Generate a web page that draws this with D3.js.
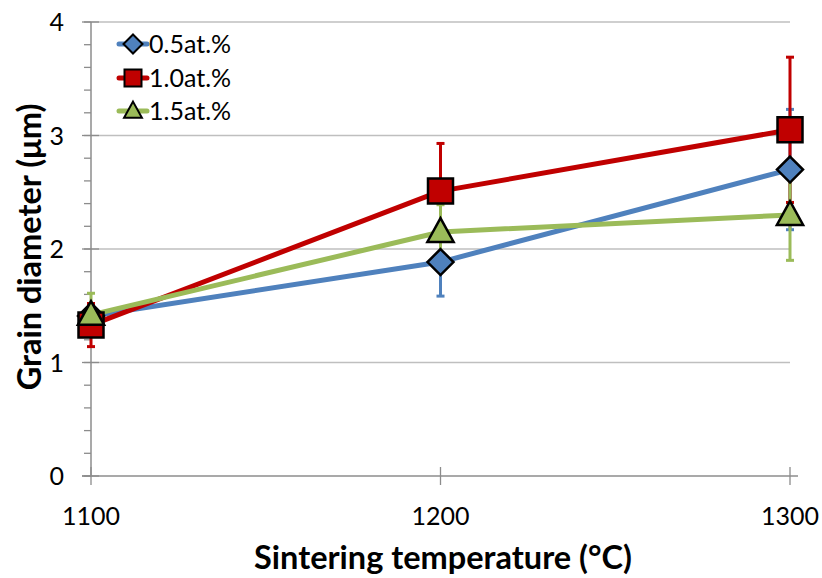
<!DOCTYPE html>
<html>
<head>
<meta charset="utf-8">
<script src="https://cdn.jsdelivr.net/npm/d3@7"></script>
<style>
  html, body { margin: 0; padding: 0; background: #fff; }
  svg { display: block; font-family: Lato, "Open Sans", sans-serif; }
</style>
</head>
<body>
<svg id="chart" width="822" height="578"></svg>
<script>
// Sintering temperatures (°C)
const temperatures = [1100, 1200, 1300];

// Series names shown in the legend
const seriesNames = ["0.5at.%", "1.0at.%", "1.5at.%"];

// Mean grain diameter (µm) per series
const grain05 = [1.41, 1.885, 2.70];
const grain10 = [1.33, 2.51, 3.05];
const grain15 = [1.42, 2.15, 2.30];

// Standard deviation (µm) per series
const err05 = [0.08, 0.30, 0.53];
const err10 = [0.19, 0.42, 0.64];
const err15 = [0.19, 0.24, 0.40];

// Axis ticks
const xTicks = [1100, 1200, 1300];
const yTicks = [0, 1, 2, 3, 4];
const yMinorTicks = d3.range(0, 4.0001, 0.2);

const xTitle = "Sintering temperature (°C)";
const yTitle = "Grain diameter (μm)";

const colors = ["#4F81BD", "#C00000", "#9BBB59"];
const shapes = ["diamond", "square", "triangle"];

const series = [
  { name: seriesNames[0], values: grain05, errs: err05, color: colors[0], shape: shapes[0] },
  { name: seriesNames[1], values: grain10, errs: err10, color: colors[1], shape: shapes[1] },
  { name: seriesNames[2], values: grain15, errs: err15, color: colors[2], shape: shapes[2] }
];

const svg = d3.select("#chart");
const plot = { left: 91, right: 790, top: 22, bottom: 476 };

const x = d3.scaleLinear().domain([1100, 1300]).range([plot.left, plot.right]);
const y = d3.scaleLinear().domain([0, 4]).range([plot.bottom, plot.top]);

const axisColor = "#8C8C8C";
const gridColor = "#BFBFBF";

// Horizontal gridlines
svg.append("g").selectAll("line")
  .data(yTicks.filter(d => d > 0))
  .join("line")
  .attr("x1", plot.left).attr("x2", plot.right)
  .attr("y1", d => y(d)).attr("y2", d => y(d))
  .attr("stroke", gridColor).attr("stroke-width", 1.5);

// Y axis: line, minor ticks, major ticks, labels
const yAxis = svg.append("g");
yAxis.append("line")
  .attr("x1", plot.left).attr("x2", plot.left)
  .attr("y1", plot.top).attr("y2", plot.bottom)
  .attr("stroke", axisColor).attr("stroke-width", 1.5);
yAxis.selectAll("line.minor")
  .data(yMinorTicks)
  .join("line").attr("class", "minor")
  .attr("x1", plot.left - 7).attr("x2", plot.left)
  .attr("y1", d => y(d)).attr("y2", d => y(d))
  .attr("stroke", axisColor).attr("stroke-width", 1.3);
yAxis.selectAll("line.major")
  .data(yTicks)
  .join("line").attr("class", "major")
  .attr("x1", plot.left - 9).attr("x2", plot.left + 8)
  .attr("y1", d => y(d)).attr("y2", d => y(d))
  .attr("stroke", axisColor).attr("stroke-width", 1.3);
yAxis.selectAll("text")
  .data(yTicks)
  .join("text")
  .attr("x", 64).attr("y", d => y(d))
  .attr("dy", "0.36em")
  .attr("text-anchor", "end")
  .attr("font-size", 25)
  .attr("fill", "#000")
  .text(d => d);

// X axis: line, crossing ticks, labels
const xAxis = svg.append("g");
xAxis.append("line")
  .attr("x1", plot.left - 9).attr("x2", plot.right + 8)
  .attr("y1", plot.bottom).attr("y2", plot.bottom)
  .attr("stroke", axisColor).attr("stroke-width", 1.5);
xAxis.selectAll("line.tick")
  .data(xTicks)
  .join("line").attr("class", "tick")
  .attr("x1", d => x(d)).attr("x2", d => x(d))
  .attr("y1", plot.bottom - 9).attr("y2", plot.bottom + 9)
  .attr("stroke", axisColor).attr("stroke-width", 1.3);
xAxis.selectAll("text")
  .data(xTicks)
  .join("text")
  .attr("x", d => x(d)).attr("y", 516)
  .attr("dy", "0.36em")
  .attr("text-anchor", "middle")
  .attr("font-size", 25)
  .attr("fill", "#000")
  .text(d => d);

// Axis titles
svg.append("text")
  .attr("x", 443).attr("y", 557)
  .attr("dy", "0.36em")
  .attr("text-anchor", "middle")
  .attr("font-size", 32.5).attr("font-weight", "bold")
  .text(xTitle);
svg.append("text")
  .attr("transform", "translate(29,247) rotate(-90)")
  .attr("dy", "0.36em")
  .attr("text-anchor", "middle")
  .attr("font-size", 32.5).attr("font-weight", "bold")
  .text(yTitle);

// Marker path generator centred on (0,0)
function markerPath(shape, s) {
  if (shape === "diamond") {
    return `M0,${-s}L${s},0L0,${s}L${-s},0Z`;
  } else if (shape === "square") {
    return `M${-s},${-s}H${s}V${s}H${-s}Z`;
  } else {
    const h = s * 1.9;
    return `M0,${-h * 0.58}L${s * 1.05},${h * 0.42}L${-s * 1.05},${h * 0.42}Z`;
  }
}
const markerSize = { diamond: 13, square: 12.5, triangle: 12.5 };

const line = d3.line()
  .x((d, i) => x(temperatures[i]))
  .y(d => y(d));

// Lines and error bars, series by series
series.forEach(s => {
  const g = svg.append("g");
  g.append("path")
    .attr("d", line(s.values))
    .attr("fill", "none")
    .attr("stroke", s.color)
    .attr("stroke-width", 5)
    .attr("stroke-linejoin", "round");

  const bars = temperatures.map((t, i) => ({ t, v: s.values[i], e: s.errs[i] }));
  g.selectAll("line.bar")
    .data(bars)
    .join("line").attr("class", "bar")
    .attr("x1", d => x(d.t)).attr("x2", d => x(d.t))
    .attr("y1", d => y(d.v - d.e)).attr("y2", d => y(d.v + d.e))
    .attr("stroke", s.color).attr("stroke-width", 3);
  ["lo", "hi"].forEach(end => {
    g.selectAll("line.cap" + end)
      .data(bars)
      .join("line").attr("class", "cap" + end)
      .attr("x1", d => x(d.t) - 4).attr("x2", d => x(d.t) + 4)
      .attr("y1", d => y(end === "lo" ? d.v - d.e : d.v + d.e))
      .attr("y2", d => y(end === "lo" ? d.v - d.e : d.v + d.e))
      .attr("stroke", s.color).attr("stroke-width", 3);
  });
});

// Markers on top
series.forEach(s => {
  svg.append("g").selectAll("path")
    .data(s.values)
    .join("path")
    .attr("transform", (d, i) => `translate(${x(temperatures[i])},${y(d)})`)
    .attr("d", markerPath(s.shape, markerSize[s.shape]))
    .attr("fill", s.color)
    .attr("stroke", "#000")
    .attr("stroke-width", 2.5)
    .attr("stroke-linejoin", "miter");
});

// Legend
const legend = svg.append("g");
const legendRowY = [44, 78, 111];
series.forEach((s, i) => {
  const row = legend.append("g").attr("transform", `translate(0,${legendRowY[i]})`);
  row.append("line")
    .attr("x1", 119).attr("x2", 147)
    .attr("y1", 0).attr("y2", 0)
    .attr("stroke", s.color).attr("stroke-width", 5)
    .attr("stroke-linecap", "round");
  row.append("path")
    .attr("transform", "translate(133,0)")
    .attr("d", markerPath(s.shape, s.shape === "diamond" ? 9.5 : 8.5))
    .attr("fill", s.color)
    .attr("stroke", "#000")
    .attr("stroke-width", 2);
  row.append("text")
    .attr("x", 149).attr("y", 0)
    .attr("dy", "0.36em")
    .attr("font-size", 25)
    .attr("fill", "#000")
    .text(s.name);
});
</script>
</body>
</html>
